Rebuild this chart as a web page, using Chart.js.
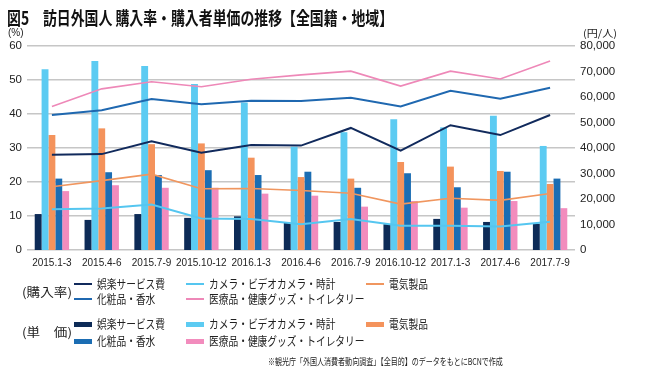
<!DOCTYPE html>
<html><head><meta charset="utf-8">
<script src="https://cdn.jsdelivr.net/npm/chart.js@4.4.0/dist/chart.umd.min.js"></script>
<style>
html,body{margin:0;padding:0;background:#fff;}
#wrap{position:relative;width:650px;height:383px;overflow:hidden;font-family:"Noto Sans CJK JP","Noto Sans",sans-serif;color:#222;}
canvas{position:absolute;left:0;top:0;}
.t{position:absolute;white-space:nowrap;line-height:1;transform-origin:0 50%;}
.mk{position:absolute;}
</style></head><body>
<div id="wrap">
<canvas id="c" width="650" height="383"></canvas>
<div class="t" data-w="386" style="left:7px;top:8px;font-size:18px;font-weight:bold;color:#111;">図5　訪日外国人 購入率・購入者単価の推移【全国籍・地域】</div>
<div class="t" style="left:8px;top:28px;font-size:10px;font-family:'Liberation Sans',sans-serif;">(%)</div>
<div class="t" data-w="34" style="left:583px;top:28px;font-size:10px;">(円/人)</div>
<div id="legend"></div>
<div class="t" id="foot" data-w="235" style="left:268px;top:357px;font-size:9.5px;">※観光庁「外国人消費者動向調査」【全目的】のデータをもとにBCNで作成</div>
</div>
<script>
// ---- data ----
const categories = ['2015.1-3','2015.4-6','2015.7-9','2015.10-12','2016.1-3','2016.4-6','2016.7-9','2016.10-12','2017.1-3','2017.4-6','2017.7-9'];
const seriesNames = ['娯楽サービス費','カメラ・ビデオカメラ・時計','電気製品','化粧品・香水','医療品・健康グッズ・トイレタリー'];
// purchase rate (%)
const entertainmentRate = [28.0, 28.2, 32.0, 28.6, 30.9, 30.7, 35.9, 29.2, 36.7, 33.8, 39.7];
const cameraRate        = [12.0, 12.2, 13.4, 9.3, 9.1, 7.6, 9.1, 7.1, 7.1, 6.9, 8.3];
const electricRate      = [18.6, 20.4, 22.3, 18.0, 18.1, 17.5, 16.7, 13.5, 15.2, 14.6, 16.6];
const cosmeticsRate     = [39.7, 41.1, 44.4, 42.9, 43.9, 43.8, 44.8, 42.2, 46.8, 44.5, 47.7];
const medicalRate       = [42.2, 47.4, 49.5, 48.0, 50.2, 51.5, 52.6, 48.2, 52.6, 50.3, 55.6];
// unit price per buyer (yen)
const entertainmentPrice = [14100, 11800, 14100, 12600, 13200, 10600, 11000, 10100, 12200, 11000, 10300];
const cameraPrice        = [70900, 74100, 72200, 65100, 57800, 40500, 46200, 51300, 48100, 52600, 40800];
const electricPrice      = [45100, 47700, 41500, 41800, 36200, 28600, 28000, 34500, 32700, 31000, 25900];
const cosmeticsPrice     = [28000, 30500, 29400, 31300, 29400, 30700, 24400, 30100, 24600, 30700, 28000];
const medicalPrice       = [23100, 25400, 24400, 24400, 22100, 21300, 17000, 19200, 16600, 19200, 16400];
// axis ticks
const rateTicks  = [0, 10, 20, 30, 40, 50, 60];
const priceTicks = [0, 10000, 20000, 30000, 40000, 50000, 60000, 70000, 80000];

// ---- styles ----
const barColors  = ['#0d2b57', '#5ccbf2', '#f4935c', '#1b6db3', '#f28cbd'];
const lineColors = ['#112a5c', '#55c6f0', '#f0965f', '#1f68b0', '#ee88b8'];
const lineWidths = [2, 2, 1.6, 2, 1.6];

const rateSeries  = [entertainmentRate, cameraRate, electricRate, cosmeticsRate, medicalRate];
const priceSeries = [entertainmentPrice, cameraPrice, electricPrice, cosmeticsPrice, medicalPrice];

Chart.defaults.font.family = "'Liberation Sans', Arial, sans-serif";
Chart.defaults.color = '#222';

const datasets = [];
priceSeries.forEach((d, i) => datasets.push({
  type: 'bar', label: seriesNames[i] + '(単価)', data: d, yAxisID: 'y2',
  backgroundColor: barColors[i], borderWidth: 0,
  categoryPercentage: 0.69, barPercentage: 1.0, order: 2
}));
rateSeries.forEach((d, i) => datasets.push({
  type: 'line', label: seriesNames[i] + '(購入率)', data: d, yAxisID: 'y',
  borderColor: lineColors[i], borderWidth: lineWidths[i], pointRadius: 0,
  tension: 0, fill: false, order: 1
}));

new Chart(document.getElementById('c'), {
  data: { labels: categories, datasets },
  options: {
    responsive: false, animation: false,
    layout: { padding: { left: 0, right: 0, top: 46, bottom: 103 } },
    plugins: { legend: { display: false }, tooltip: { enabled: false }, title: { display: false } },
    scales: {
      x: {
        grid: { display: false, drawTicks: false }, border: { display: false },
        ticks: { font: { size: 10 }, color: '#222', padding: 7, maxRotation: 0, autoSkip: false },
        afterFit(s) { s.height = 30; }
      },
      y: {
        position: 'left', min: rateTicks[0], max: rateTicks[rateTicks.length - 1],
        ticks: { stepSize: rateTicks[1] - rateTicks[0], padding: 5, font: { size: 11.5 }, color: '#222' },
        grid: { color: '#c6c6c6', lineWidth: 1.5, drawTicks: false }, border: { display: false },
        afterFit(s) { s.width = 27; }
      },
      y2: {
        position: 'right', min: priceTicks[0], max: priceTicks[priceTicks.length - 1],
        ticks: { stepSize: priceTicks[1] - priceTicks[0], padding: 5, font: { size: 11.5 }, color: '#222',
                 callback: v => Number(v).toLocaleString('en-US') },
        grid: { display: false, drawTicks: false }, border: { display: false },
        afterFit(s) { s.width = 75; }
      }
    }
  }
});

// ---- HTML legend built from series ----
const lg = document.getElementById('legend');
const colX = [[74, 97], [186, 209], [366, 389]];
const slot = [[0,0],[0,1],[0,2],[1,0],[1,1]];
const LEG_SCALE = 0.81;
function block(label, rowsY, labelY, colors, markH) {
  const l = document.createElement('div');
  l.className = 't'; l.style.left = '22px'; l.style.top = (labelY - 6.5) + 'px';
  l.style.fontSize = '12px'; l.textContent = label; l.dataset.w = '50'; lg.appendChild(l);
  seriesNames.forEach((n, i) => {
    const [r, c] = slot[i];
    const y = rowsY[r];
    const m = document.createElement('div');
    m.className = 'mk';
    m.style.left = colX[c][0] + 'px'; m.style.width = '18px';
    m.style.top = (y - markH / 2) + 'px'; m.style.height = markH + 'px';
    m.style.background = colors[i]; lg.appendChild(m);
    const t = document.createElement('div');
    t.className = 't'; t.style.left = colX[c][1] + 'px'; t.style.top = (y - 6.5) + 'px';
    t.style.fontSize = '12px'; t.style.transform = 'scaleX(' + LEG_SCALE + ')';
    t.textContent = n; lg.appendChild(t);
  });
}
block('(購入率)', [284, 299], 292, lineColors, 2);
block('(単　価)', [324, 341], 332, barColors, 5);

// squeeze selected texts to the widths seen in the reference
document.querySelectorAll('[data-w]').forEach(el => {
  const w = el.getBoundingClientRect().width;
  const target = parseFloat(el.dataset.w);
  if (w > 0) el.style.transform = 'scaleX(' + (target / w).toFixed(3) + ')';
});
</script>
</body></html>
